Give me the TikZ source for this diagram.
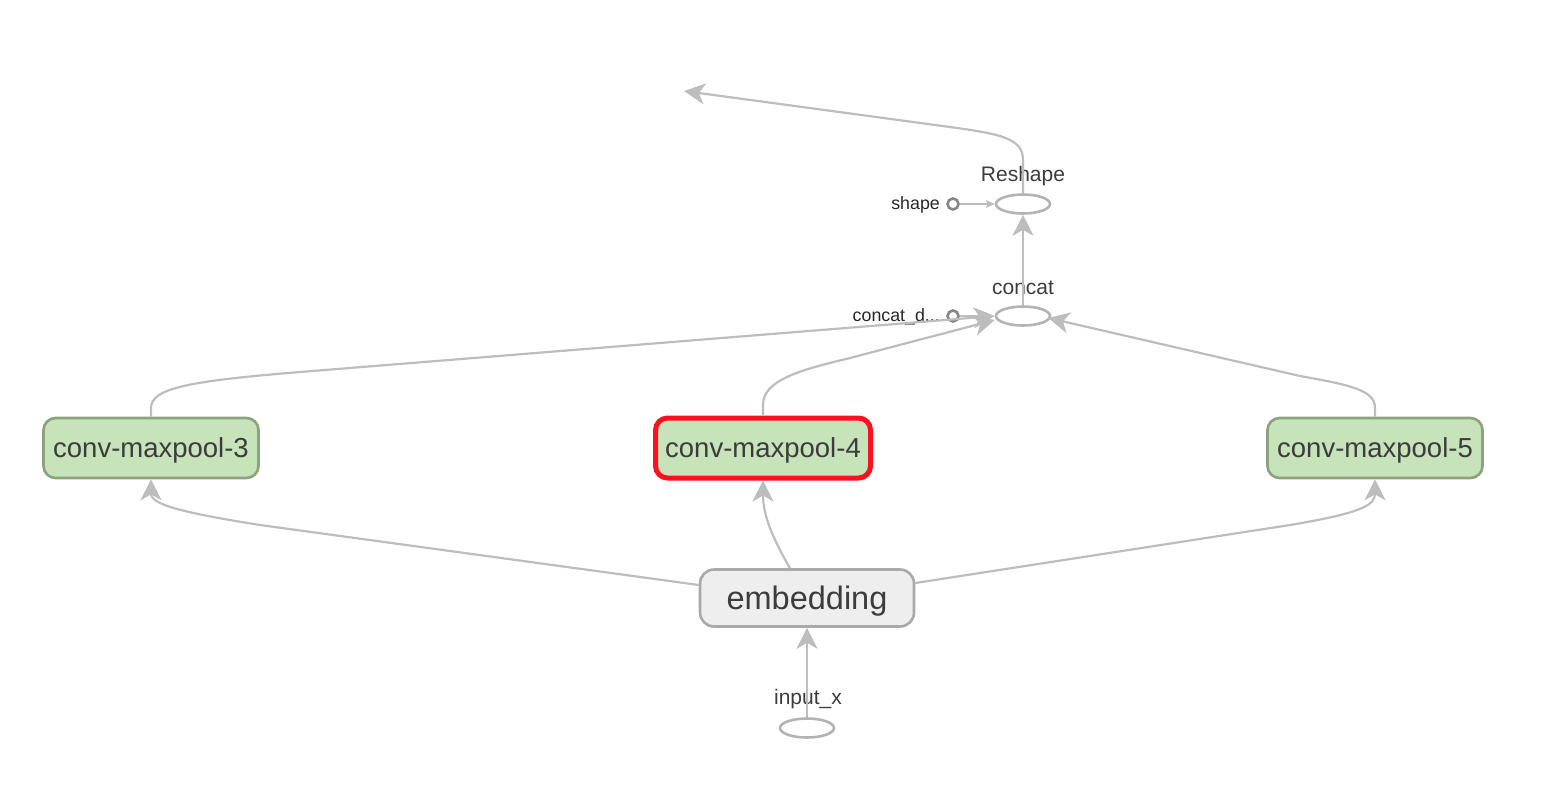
\documentclass[tikz,border=0pt]{standalone}
\usepackage{fontspec}
\setmainfont{Liberation Sans}
\usetikzlibrary{arrows.meta,shapes.geometric}
\definecolor{edgegray}{HTML}{BDBDBD}
\definecolor{txt}{HTML}{3C3C3C}
\definecolor{gfill}{HTML}{C6E3B9}
\definecolor{gborder}{HTML}{8AA27E}
\definecolor{redb}{HTML}{FF1020}
\definecolor{efill}{HTML}{EEEEEE}
\definecolor{eborder}{HTML}{A9A9A9}
\definecolor{ellb}{HTML}{B3B3B3}
\definecolor{circb}{HTML}{888888}
\tikzset{
  groupbox/.style={draw=gborder, fill=gfill, line width=2.6pt, rounded corners=12pt,
    minimum width=215pt, minimum height=60pt, text=txt, inner sep=0pt,
    text height=18pt, text depth=0pt,
    font=\fontsize{27.5}{27.5}\selectfont},
  embbox/.style={draw=eborder, fill=efill, line width=2.6pt, rounded corners=14pt,
    minimum width=214pt, minimum height=57pt, text=txt, inner sep=0pt,
    text height=22pt, text depth=0pt,
    font=\fontsize{32.5}{32.5}\selectfont},
  opell/.style={draw=ellb, line width=2.6pt, ellipse, minimum width=54pt, minimum height=19pt, inner sep=0pt},
  constc/.style={draw=circb, line width=2.6pt, circle, minimum size=11pt, inner sep=0pt},
  lbl/.style={text=txt, inner sep=0pt, font=\fontsize{21}{21}\selectfont},
  slbl/.style={text=black!85, inner sep=0pt, font=\fontsize{17.8}{17.8}\selectfont},
  bigedge/.style={draw=edgegray, line width=2.2pt, -{Stealth[length=21pt,width=21pt,inset=6pt]}},
  smalledge/.style={draw=edgegray, line width=1.3pt, -{Stealth[length=9pt,width=8pt,inset=2pt]}},
}
\begin{document}
\begin{tikzpicture}[x=1pt,y=-1pt]
\useasboundingbox (0,0) rectangle (1568,804);

\node[groupbox] (c3) at (151,448) {conv-maxpool-3};
\node[groupbox, draw=redb, line width=5pt] (c4) at (763,448) {conv-maxpool-4};
\node[groupbox] (c5) at (1375,448) {conv-maxpool-5};
\node[embbox] (emb) at (807,598) {embedding};

\node[opell] (inx) at (807,728) {};
\node[lbl] (inxl) at (808,699) {input\_x};
\node[opell] (cc) at (1023,316) {};
\node[lbl] (ccl) at (1023,288) {concat};
\node[opell] (rs) at (1023,204) {};
\node[lbl] (rsl) at (1023,176) {Reshape};

\node[constc] (shp) at (953,204) {};
\node[slbl, anchor=east] (shpl) at (940,205) {shape};
\node[constc] (ccd) at (953,316) {};
\node[slbl, anchor=east] (ccdl) at (940,317) {concat\_d...};

\coordinate (outend) at (684,91);

% edges
\draw[bigedge] (inx.north) -- (emb.south);
\draw[bigedge] ([yshift=13pt]emb.west) -- (260,525) .. controls (185,513) and (151,505) .. (c3.south);
\draw[bigedge] ([xshift=-17pt]emb.north) .. controls (772,537) and (763,515) .. (c4.south);
\draw[bigedge] ([yshift=15pt]emb.east) -- (1290,525) .. controls (1362,513) and (1375,505) .. (c5.south);

\draw[bigedge] (c3.north) -- (151,408) .. controls (151,388) and (190,381) .. (300,372) -- (cc.west);
\draw[bigedge] (c4.north) -- (763,405) .. controls (763,380) and (800,370) .. (850,358) -- ([yshift=-4pt]cc.west);
\draw[bigedge] (c5.north) -- (1375,408) .. controls (1375,390) and (1350,385) .. (1300,376) -- ([xshift=-3pt,yshift=-2pt]cc.east);

\draw[smalledge] (ccd.east) -- ([xshift=-1pt]cc.west);
\draw[smalledge] (shp.east) -- (rs.west);
\draw[bigedge] (cc.north) -- (rs.south);
\draw[bigedge] (rs.north) -- (1023,160) .. controls (1023,138) and (1000,134) .. (950,127) -- (outend);
\end{tikzpicture}
\end{document}
